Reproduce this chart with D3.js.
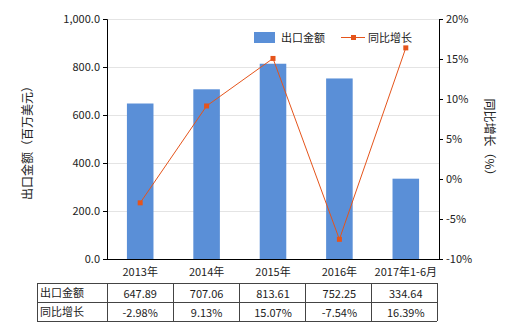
<!DOCTYPE html>
<html>
<head>
<meta charset="utf-8">
<script src="https://cdn.jsdelivr.net/npm/d3@7/dist/d3.min.js"></script>
<style>
body { margin: 0; background: #fff; }
text { font-family: "Noto Sans CJK SC", "Noto Sans", sans-serif; fill: #222; }
</style>
</head>
<body>
<div id="chart"></div>
<script>
var categories = ["2013年", "2014年", "2015年", "2016年", "2017年1-6月"];
var exportValues = [647.89, 707.06, 813.61, 752.25, 334.64];
var growthValues = [-2.98, 9.13, 15.07, -7.54, 16.39];
var exportLabels = ["647.89", "707.06", "813.61", "752.25", "334.64"];
var growthLabels = ["-2.98%", "9.13%", "15.07%", "-7.54%", "16.39%"];
var leftTicks = [0, 200, 400, 600, 800, 1000];
var rightTicks = [-10, -5, 0, 5, 10, 15, 20];

var width = 520, height = 330;
var plotLeft = 107, plotRight = 439, plotTop = 19, plotBottom = 259;
var barColor = "#5A8FD7", lineColor = "#E5541B";

var svg = d3.select("#chart").append("svg")
	.attr("width", width)
	.attr("height", height);

var x = d3.scaleBand().domain(categories).range([plotLeft, plotRight]).paddingInner(0.6).paddingOuter(0.3);
var y = d3.scaleLinear().domain([0, 1000]).range([plotBottom, plotTop]);
var y2 = d3.scaleLinear().domain([-10, 20]).range([plotBottom, plotTop]);

/* grid */
svg.append("g").selectAll("line")
	.data(leftTicks).enter()
	.append("line")
	.attr("x1", plotLeft).attr("x2", plotRight)
	.attr("y1", d => Math.round(y(d)) + 0.5).attr("y2", d => Math.round(y(d)) + 0.5)
	.attr("stroke", "#e4e4e4");

/* bars */
svg.append("g").selectAll("rect")
	.data(exportValues).enter()
	.append("rect")
	.attr("x", (d, i) => x(categories[i]))
	.attr("width", x.bandwidth())
	.attr("y", d => y(d))
	.attr("height", d => plotBottom - y(d))
	.attr("fill", barColor);

/* axes */
var yAxis = d3.axisLeft(y).tickValues(leftTicks).tickSize(4).tickFormat(d3.format(",.1f"));
var gl = svg.append("g").attr("transform", `translate(${plotLeft},0)`).call(yAxis);
var yAxis2 = d3.axisRight(y2).tickValues(rightTicks).tickSize(4).tickFormat(d => d + "%");
var gr = svg.append("g").attr("transform", `translate(${plotRight},0)`).call(yAxis2);
var xAxis = d3.axisBottom(x).tickSize(0).tickPadding(9);
var gx = svg.append("g").attr("transform", `translate(0,${plotBottom})`).call(xAxis);
[gl, gr, gx].forEach(function(g) {
	g.selectAll("path").attr("stroke", "#000");
	g.selectAll("line").attr("stroke", "#000");
	g.selectAll("text").style("font-size", "11px").attr("fill", "#222");
});
gx.select("path").attr("d", `M${plotLeft},0.5H${plotRight}`);

/* line */
var line = d3.line()
	.x((d, i) => x(categories[i]) + x.bandwidth() / 2)
	.y(d => y2(d));
svg.append("path")
	.datum(growthValues)
	.attr("d", line)
	.attr("fill", "none")
	.attr("stroke", lineColor)
	.attr("stroke-width", 1);
svg.append("g").selectAll("rect")
	.data(growthValues).enter()
	.append("rect")
	.attr("x", (d, i) => x(categories[i]) + x.bandwidth() / 2 - 2.5)
	.attr("y", d => y2(d) - 2.5)
	.attr("width", 5).attr("height", 5)
	.attr("fill", lineColor);

/* axis titles */
svg.append("text")
	.attr("transform", "translate(32,140) rotate(-90)")
	.attr("text-anchor", "middle")
	.style("font-size", "12px")
	.text("出口金额（百万美元）");
svg.append("text")
	.attr("transform", "translate(485,140) rotate(90)")
	.attr("text-anchor", "middle")
	.style("font-size", "12px")
	.text("同比增长（%）");

/* legend */
var legend = svg.append("g");
legend.append("rect").attr("x", 254).attr("y", 32).attr("width", 21).attr("height", 11).attr("fill", barColor);
legend.append("text").attr("x", 281).attr("y", 42).style("font-size", "11px").text("出口金额");
legend.append("line").attr("x1", 341).attr("x2", 365).attr("y1", 37.5).attr("y2", 37.5).attr("stroke", lineColor);
legend.append("rect").attr("x", 351).attr("y", 35).attr("width", 5).attr("height", 5).attr("fill", lineColor);
legend.append("text").attr("x", 368).attr("y", 42).style("font-size", "11px").text("同比增长");

/* data table */
var tLeft = 37, tRight = 437, tTop = 283, rowH = 19;
var cols = [tLeft].concat(d3.range(6).map(i => plotLeft + (tRight - plotLeft) * i / 5));
var table = svg.append("g");
[["出口金额", exportLabels], ["同比增长", growthLabels]].forEach(function(row, r) {
	var yy = tTop + r * rowH;
	table.append("text").attr("x", tLeft + 3).attr("y", yy + 14).style("font-size", "11px").text(row[0]);
	row[1].forEach(function(v, i) {
		table.append("text")
			.attr("x", x(categories[i]) + x.bandwidth() / 2)
			.attr("y", yy + 15)
			.attr("text-anchor", "middle")
			.style("font-size", "11px")
			.text(v);
	});
});
for (var r = 0; r <= 2; r++) {
	table.append("line").attr("x1", tLeft).attr("x2", tRight)
		.attr("y1", tTop + r * rowH + 0.5).attr("y2", tTop + r * rowH + 0.5)
		.attr("stroke", "#444");
}
cols.forEach(function(cx) {
	table.append("line").attr("x1", Math.round(cx) + 0.5).attr("x2", Math.round(cx) + 0.5)
		.attr("y1", tTop).attr("y2", tTop + 2 * rowH)
		.attr("stroke", "#444");
});
</script>
</body>
</html>
